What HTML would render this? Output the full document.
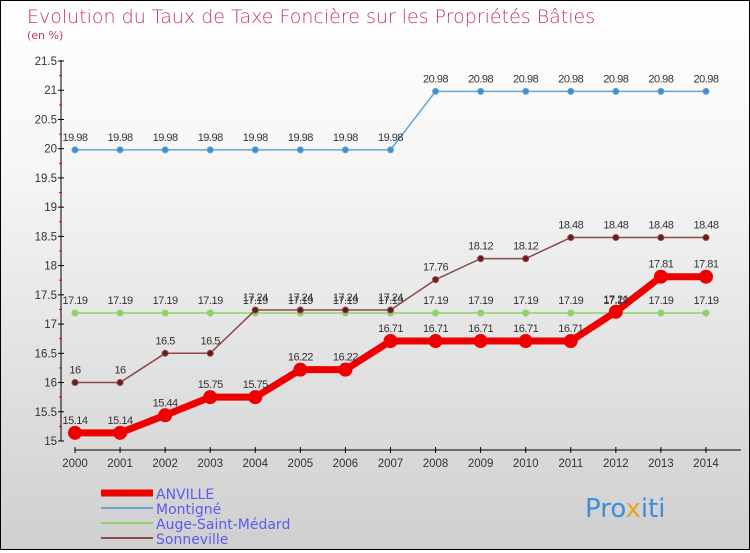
<!DOCTYPE html>
<html><head><meta charset="utf-8"><style>
body{margin:0}
#c{width:748px;height:548px;border:1px solid #000;background:linear-gradient(#fff,#f6f6f6 30%,#cfcfcf);position:relative;font-family:"DejaVu Sans","Liberation Sans",sans-serif}
</style></head><body>
<div id="c">
<svg id="s" width="748" height="548">
<text x="26" y="22" font-size="19" fill="#c8336a" font-family="DejaVu Sans ExtraLight,DejaVu Sans,sans-serif" font-weight="200">Evolution du Taux de Taxe Foncière sur les Propriétés Bâties</text>
<text x="26" y="38" font-size="11" fill="#c8336a">(en %)</text>
<line x1="60" y1="59" x2="60" y2="440" stroke="#000"/>
<line x1="74" y1="449" x2="740" y2="449" stroke="#000"/>
<g id="g" font-family="Liberation Sans,sans-serif"></g>
<g>
<line x1="100" y1="492" x2="152" y2="492" stroke="#e00" stroke-width="7"/>
<line x1="100" y1="507" x2="152" y2="507" stroke="#6aa3cc" stroke-width="2"/>
<line x1="100" y1="522" x2="152" y2="522" stroke="#8fd26a" stroke-width="2"/>
<line x1="100" y1="537" x2="152" y2="537" stroke="#8a4a4a" stroke-width="2"/>
<g font-size="14" fill="#5b5bf0">
<text x="155" y="498">ANVILLE</text>
<text x="155" y="513">Montigné</text>
<text x="155" y="528">Auge-Saint-Médard</text>
<text x="155" y="543">Sonneville</text>
</g></g>
<text x="584" y="516" font-size="26" fill="#3a8fd8">Pro<tspan fill="#f0a020">x</tspan>iti</text>
</svg></div>
<script>
const years=[2000,2001,2002,2003,2004,2005,2006,2007,2008,2009,2010,2011,2012,2013,2014];
const yTicks=[15,15.5,16,16.5,17,17.5,18,18.5,19,19.5,20,20.5,21,21.5];
const anville=[15.14,15.14,15.44,15.75,15.75,16.22,16.22,16.71,16.71,16.71,16.71,16.71,17.21,17.81,17.81];
const montigne=[19.98,19.98,19.98,19.98,19.98,19.98,19.98,19.98,20.98,20.98,20.98,20.98,20.98,20.98,20.98];
const auge=[17.19,17.19,17.19,17.19,17.19,17.19,17.19,17.19,17.19,17.19,17.19,17.19,17.19,17.19,17.19];
const sonneville=[16,16,16.5,16.5,17.24,17.24,17.24,17.24,17.76,18.12,18.12,18.48,18.48,18.48,18.48];
const X=i=>74+i*45.07, Y=v=>440-(v-15)*58.46;
const g=document.getElementById('g'),NS='http://www.w3.org/2000/svg';
function mk(t,a){const e=document.createElementNS(NS,t);for(const k in a)e.setAttribute(k,a[k]);g.appendChild(e);return e;}
yTicks.forEach((v,k)=>{const l=mk('line',{x1:57,x2:63,y1:Y(v),y2:Y(v),stroke:'#000'});


if(k<yTicks.length-1)mk('line',{x1:58,x2:61,y1:Y(v+0.25),y2:Y(v+0.25),stroke:'#e00'});
const t=mk('text',{x:56,y:Y(v)+4,'font-size':11.5,fill:'#333','text-anchor':'end'});t.textContent=v;

});
years.forEach((y,i)=>{mk('line',{x1:X(i),x2:X(i),y1:446,y2:452,stroke:'#000'});
const t=mk('text',{x:X(i),y:466,'font-size':11.5,fill:'#333','text-anchor':'middle'});t.textContent=y;

});
function series(d,col,w,r,dot,name){
const p=mk('polyline',{points:d.map((v,i)=>X(i)+','+Y(v)).join(' '),fill:'none',stroke:col,'stroke-width':w});


d.forEach((v,i)=>{const c=mk('circle',{cx:X(i),cy:Y(v),r:r,fill:dot,stroke:col,'stroke-width':1});


const t=mk('text',{x:X(i),y:Y(v)-9,'font-size':11,fill:'#333','text-anchor':'middle','letter-spacing':'-0.5'});t.textContent=v;

});}
series(montigne,'#6aa3cc',1.5,3,'#3a8fd8','montigne');
series(auge,'#8fd26a',1.5,3,'#8fd26a','auge');
series(sonneville,'#8a4a4a',1.5,3,'#6a1a1a','sonneville');
series(anville,'#e00',7,6.5,'#e00','anville');
</script>
</body></html>
